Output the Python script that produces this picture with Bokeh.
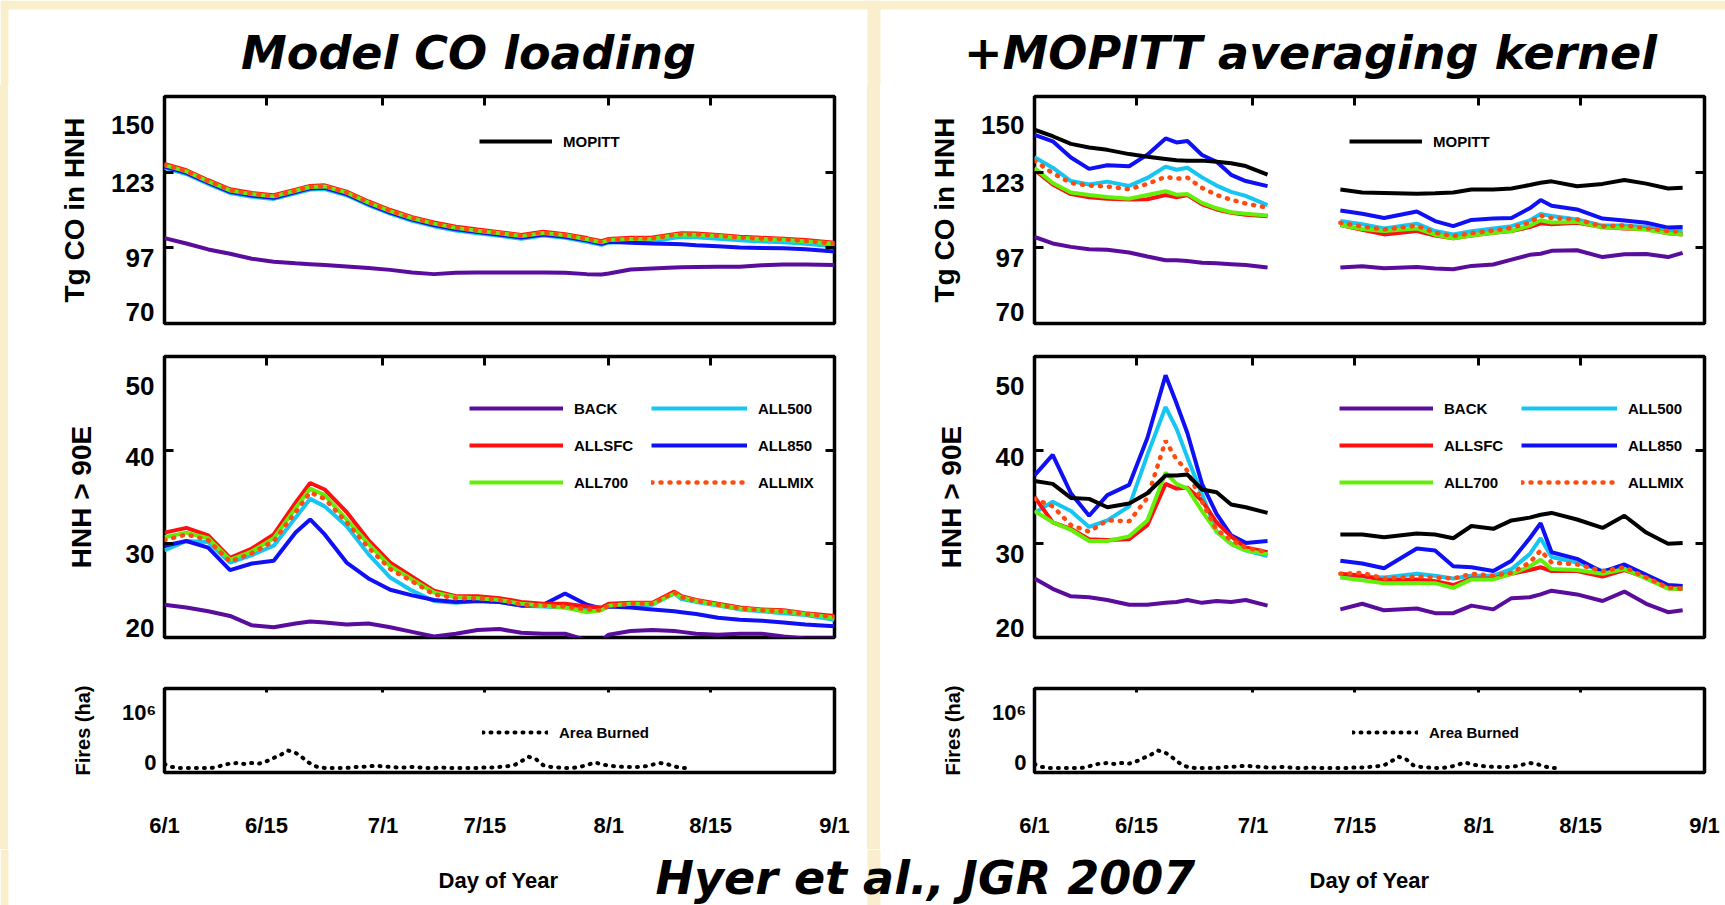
import numpy as np
from bokeh.plotting import figure
from bokeh.layouts import row, column
from bokeh.models import (Range1d, FixedTicker, LinearAxis, Legend, LegendItem,
                          Label, Spacer, BoxAnnotation)
from bokeh.embed import file_html
from bokeh.resources import INLINE

NaN = float("nan")

# ---------------- axes / ticks ----------------
date_ticks = [0, 14, 30, 44, 61, 75, 92]          # days after 1 June
date_labels = ["6/1", "6/15", "7/1", "7/15", "8/1", "8/15", "9/1"]
inner_date_ticks = [14, 30, 44, 61, 75]

load_tick_pos = [139.8, 119.5, 93.0, 74.1]
load_tick_text = ["150", "123", "97", "70"]
load_inner_ticks = [96.67, 123.33]

hnh_tick_pos = [46.9, 39.3, 28.9, 21.0]
hnh_tick_text = ["50", "40", "30", "20"]
hnh_inner_ticks = [30, 40]

fire_tick_pos = [0.1, 1.0]
fire_tick_text = ["0", "10\u2076"]

# ---------------- model CO (daily model output) ----------------
days_model = [0, 3, 6, 9, 12, 15, 18, 20, 22, 25, 28, 31, 34, 37, 40, 43, 46, 49,
              52, 55, 58, 60, 61, 64, 67, 70, 71, 73, 76, 79, 82, 85, 88, 92]

back_load = [100.1, 98.2, 96.1, 94.6, 92.8, 91.8, 91.2, 90.9, 90.6, 90.1, 89.6, 88.9, 88.0, 87.4,
             87.9, 88.0, 88.0, 88.0, 88.0, 87.9, 87.4, 87.3, 87.6, 89.0, 89.4, 89.7, 89.8, 89.9,
             90.0, 90.0, 90.5, 90.8, 90.8, 90.6]
allsfc_load = [126.2, 124.0, 120.5, 117.3, 116.0, 115.2, 117.2, 118.5, 118.7, 116.5, 113.0, 110.0,
               107.5, 105.6, 104.1, 103.1, 102.2, 101.2, 102.3, 101.5, 100.1, 99.0, 99.8, 100.2,
               100.3, 101.5, 101.8, 101.7, 101.2, 100.6, 100.2, 99.9, 99.4, 98.5]
all700_load = [125.8, 123.6, 120.1, 116.9, 115.6, 114.8, 116.8, 118.1, 118.3, 116.1, 112.6, 109.6,
               107.1, 105.2, 103.7, 102.7, 101.8, 100.8, 101.9, 101.1, 99.7, 98.6, 99.4, 99.8,
               99.9, 101.1, 101.4, 101.3, 100.8, 100.2, 99.8, 99.5, 99.0, 98.1]
allmix_load = [125.9, 123.7, 120.2, 117.0, 115.7, 114.9, 116.9, 118.2, 118.4, 116.2, 112.7, 109.7,
               107.2, 105.3, 103.8, 102.8, 101.9, 100.9, 102.0, 101.2, 99.8, 98.7, 99.5, 99.9,
               100.0, 101.2, 101.5, 101.4, 100.9, 100.3, 99.9, 99.6, 99.1, 98.2]
all500_load = [124.9, 122.7, 119.2, 116.0, 114.7, 113.9, 115.9, 117.2, 117.4, 115.2, 111.7, 108.7,
               106.2, 104.3, 102.8, 101.8, 100.9, 99.9, 101.0, 100.2, 98.8, 97.7, 98.5, 98.9,
               99.0, 100.2, 100.5, 100.4, 99.9, 99.3, 98.9, 98.6, 98.1, 97.2]
all850_load = [125.3, 123.1, 119.6, 116.4, 115.1, 114.3, 116.3, 117.6, 117.8, 115.6, 112.1, 109.1,
               106.6, 104.7, 103.2, 102.2, 101.3, 100.3, 101.4, 100.6, 99.2, 98.1, 98.8, 98.5,
               98.2, 98.0, 97.9, 97.6, 97.2, 96.8, 96.6, 96.5, 96.2, 95.4]
mopitt_load_model = [NaN]   # no MOPITT curve in the model-only panel (legend entry only)

back_hnh = [23.5, 23.2, 22.8, 22.3, 21.3, 21.1, 21.5, 21.7, 21.6, 21.4, 21.5, 21.1, 20.6, 20.1,
            20.4, 20.8, 20.9, 20.5, 20.4, 20.4, 19.7, 19.7, 20.3, 20.7, 20.8, 20.7, 20.6, 20.4,
            20.3, 20.4, 20.4, 20.1, 19.9, 19.9]
allsfc_hnh = [31.2, 31.7, 30.9, 28.5, 29.5, 31.0, 34.4, 36.5, 35.8, 33.4, 30.4, 28.0, 26.5, 25.0,
              24.4, 24.4, 24.2, 23.8, 23.6, 23.6, 23.3, 23.2, 23.6, 23.7, 23.7, 24.9, 24.4, 24.0,
              23.6, 23.2, 23.0, 22.9, 22.6, 22.3]
all700_hnh = [30.7, 31.2, 30.6, 28.3, 29.2, 30.6, 33.8, 35.9, 35.2, 32.6, 30.0, 27.6, 26.2, 24.8,
              24.3, 24.2, 24.0, 23.6, 23.4, 23.2, 22.7, 22.9, 23.4, 23.6, 23.6, 24.7, 24.3, 23.9,
              23.5, 23.1, 22.9, 22.8, 22.5, 22.1]
allmix_hnh = [30.4, 31.0, 30.4, 28.1, 29.0, 30.3, 33.4, 35.5, 34.8, 32.3, 29.6, 27.3, 26.0, 24.6,
              24.2, 24.2, 24.0, 23.5, 23.4, 23.3, 23.0, 22.9, 23.4, 23.6, 23.6, 24.8, 24.3, 23.9,
              23.5, 23.1, 22.9, 22.8, 22.5, 22.2]
all500_hnh = [29.3, 30.3, 30.2, 28.0, 28.8, 29.8, 32.8, 34.8, 34.0, 31.9, 28.9, 26.4, 25.0, 23.9,
              23.7, 23.9, 23.8, 23.4, 23.3, 23.2, 22.9, 23.0, 23.3, 23.4, 23.5, 24.7, 24.1, 23.8,
              23.4, 23.0, 22.8, 22.6, 22.4, 21.9]
all850_hnh = [29.8, 30.3, 29.6, 27.2, 27.9, 28.2, 31.2, 32.6, 31.0, 28.0, 26.3, 25.1, 24.5, 24.0,
              23.8, 23.9, 23.8, 23.4, 23.5, 24.7, 23.5, 23.1, 23.3, 23.2, 23.0, 22.8, 22.7, 22.5,
              22.1, 21.9, 21.8, 21.6, 21.4, 21.2]

# ---------------- with MOPITT averaging kernel (gap = no retrievals) ----------------
days_ak = [0, 2.5, 5, 7.5, 10, 13, 15.5, 18, 19.5, 21, 23, 25, 27, 29, 32, 37,
           42, 45, 48, 52.5, 55, 57.5, 60, 63, 65.5, 68, 69.5, 71, 74.5, 78, 81, 84, 87, 89]

mopitt_load_ak = [138.3, 136.0, 133.3, 132.0, 131.2, 129.7, 128.8, 128.0, 127.5, 127.4, 127.4, 127.0,
                  126.5, 125.5, 122.5, NaN, 117.2, 116.2, 116.0, 115.7, 115.9, 116.2, 117.2, 117.2,
                  117.6, 118.8, 119.6, 120.1, 118.4, 119.2, 120.6, 119.3, 117.6, 117.8]
all850_load_ak = [136.5, 134.2, 128.5, 124.5, 125.8, 125.4, 129.5, 135.2, 133.8, 134.3, 129.4, 127.0,
                  122.4, 120.2, 118.4, NaN, 109.8, 108.7, 107.2, 109.5, 106.1, 104.3, 106.5, 107.0,
                  107.2, 110.6, 113.5, 111.5, 110.2, 107.0, 106.3, 105.5, 103.8, 104.0]
all500_load_ak = [128.6, 124.9, 120.2, 119.0, 120.0, 118.5, 121.3, 125.3, 124.2, 124.9, 121.5, 118.6,
                  116.4, 115.0, 111.7, NaN, 106.1, 105.0, 103.5, 105.2, 102.6, 101.4, 102.5, 103.5,
                  104.3, 106.3, 108.6, 107.9, 106.7, 104.5, 104.5, 104.0, 102.6, 102.6]
allmix_load_ak = [127.4, 123.0, 119.5, 118.6, 118.3, 117.3, 119.2, 121.7, 121.0, 121.4, 117.8, 115.3,
                  113.6, 112.3, 110.8, NaN, 105.5, 104.2, 103.1, 104.5, 102.0, 100.8, 101.8, 102.8,
                  103.7, 105.6, 108.0, 107.2, 106.7, 104.2, 104.6, 103.6, 102.6, 102.3]
all700_load_ak = [124.8, 119.5, 116.2, 115.3, 114.6, 114.0, 115.3, 116.6, 115.4, 115.6, 112.5, 110.6,
                  109.2, 108.7, 108.1, NaN, 104.7, 103.3, 102.6, 103.5, 101.3, 100.0, 101.0, 102.0,
                  102.6, 104.5, 106.4, 105.6, 105.8, 103.8, 103.7, 103.0, 101.8, 101.4]
allsfc_load_ak = [124.2, 119.0, 115.6, 114.5, 114.0, 113.7, 113.8, 115.3, 114.5, 115.3, 112.0, 110.2,
                  109.0, 108.3, 107.8, NaN, 104.7, 103.0, 101.4, 102.6, 101.0, 100.0, 101.0, 102.0,
                  102.6, 104.0, 105.3, 105.0, 105.5, 104.0, 103.5, 103.3, 101.8, 101.4]
back_load_ak = [100.5, 98.2, 97.0, 96.2, 96.0, 95.0, 93.6, 92.3, 92.3, 92.0, 91.4, 91.2, 90.9, 90.6,
                89.7, NaN, 89.7, 90.2, 89.5, 89.9, 89.4, 89.1, 90.3, 90.8, 92.5, 94.2, 94.6, 95.6,
                95.8, 93.4, 94.4, 94.5, 93.4, 94.9]

mopitt_hnh_ak = [36.7, 36.4, 34.9, 34.8, 33.9, 34.3, 35.4, 37.3, 37.3, 37.4, 35.8, 35.5, 34.2, 33.9,
                 33.3, NaN, 31.0, 31.0, 30.7, 31.1, 31.0, 30.6, 31.9, 31.6, 32.5, 32.8, 33.1, 33.3,
                 32.6, 31.7, 33.0, 31.2, 30.0, 30.1]
all850_hnh_ak = [37.3, 39.5, 35.4, 33.0, 35.2, 36.3, 41.3, 48.0, 45.0, 41.8, 36.4, 33.2, 30.9, 30.1,
                 30.3, NaN, 28.2, 27.9, 27.4, 29.5, 29.3, 27.6, 27.5, 27.1, 28.2, 30.6, 32.2, 29.1,
                 28.4, 27.0, 27.8, 26.7, 25.6, 25.5]
all500_hnh_ak = [33.3, 34.5, 33.5, 31.8, 32.5, 34.0, 39.5, 44.6, 42.3, 39.2, 35.3, 31.3, 30.0, 29.3,
                 28.7, NaN, 26.6, 26.5, 26.4, 26.8, 26.6, 26.3, 26.6, 26.6, 27.3, 28.9, 30.6, 28.6,
                 28.0, 27.1, 27.5, 26.3, 25.3, 25.2]
allmix_hnh_ak = [34.8, 34.0, 32.0, 31.3, 32.5, 32.4, 34.9, 41.0, 39.0, 37.8, 34.5, 31.5, 30.4, 29.6,
                 29.1, NaN, 26.8, 26.9, 26.3, 26.5, 26.4, 26.3, 26.8, 26.6, 26.9, 28.0, 29.3, 28.0,
                 27.8, 27.1, 27.5, 26.4, 25.3, 25.2]
all700_hnh_ak = [33.5, 32.3, 31.5, 30.3, 30.3, 30.8, 32.5, 37.6, 36.4, 35.9, 33.5, 31.3, 30.0, 29.3,
                 28.9, NaN, 26.4, 26.1, 25.8, 25.8, 25.8, 25.3, 26.2, 26.2, 26.8, 27.6, 28.3, 27.3,
                 27.2, 26.8, 27.3, 26.3, 25.2, 25.2]
allsfc_hnh_ak = [35.0, 32.3, 31.6, 30.5, 30.4, 30.5, 32.0, 36.4, 35.9, 36.0, 34.6, 32.3, 30.8, 29.6,
                 29.1, NaN, 26.8, 26.6, 26.1, 26.2, 26.0, 25.6, 26.3, 26.3, 26.8, 27.2, 27.5, 27.1,
                 27.1, 26.5, 27.2, 26.4, 25.3, 25.2]
back_hnh_ak = [26.3, 25.2, 24.4, 24.3, 24.0, 23.5, 23.5, 23.7, 23.8, 24.0, 23.7, 23.9, 23.8, 24.0,
               23.4, NaN, 23.0, 23.6, 22.9, 23.1, 22.6, 22.6, 23.4, 23.0, 24.2, 24.3, 24.6, 25.0,
               24.6, 23.9, 24.9, 23.6, 22.7, 22.9]

# ---------------- area burned (daily) ----------------
fire_days = list(range(0, 73))
area_burned = [0.07, 0.02, 0.0, 0.0, 0.0, 0.0, 0.0, 0.01, 0.05, 0.08, 0.09, 0.07, 0.09, 0.08,
               0.12, 0.18, 0.24, 0.31, 0.27, 0.18, 0.08, 0.02, 0.0, 0.0, 0.0, 0.0, 0.02, 0.02,
               0.03, 0.04, 0.03, 0.02, 0.01, 0.01, 0.02, 0.01, 0.0, 0.0, 0.01, 0.0, 0.0, 0.0,
               0.0, 0.0, 0.01, 0.01, 0.02, 0.03, 0.05, 0.12, 0.20, 0.16, 0.05, 0.02, 0.01, 0.0,
               0.0, 0.02, 0.05, 0.10, 0.07, 0.04, 0.03, 0.02, 0.02, 0.02, 0.03, 0.06, 0.09, 0.07,
               0.03, 0.0, 0.0]

# ---------------- styling ----------------
CREAM = "#f9efcd"
FONT = "Liberation Sans"
NARROW = "Liberation Sans Narrow, Liberation Sans"
TITLE_FONT = "DejaVu Sans"
PAGE_W, PAGE_H = 1725, 905
WHITE_BG = {"background-color": "white"}

STYLE = {
    "BACK":   dict(line_color="#5a0c9c", line_width=4),
    "ALL500": dict(line_color="#16c6f2", line_width=4),
    "ALL850": dict(line_color="#1010f4", line_width=4),
    "ALLSFC": dict(line_color="#ff1010", line_width=4),
    "ALL700": dict(line_color="#62f00a", line_width=4),
    "ALLMIX": dict(line_color="#ff4a10", line_width=4.5, line_dash="1 8", line_cap="round"),
    "MOPITT": dict(line_color="black", line_width=4),
}
DRAW_ORDER = ["BACK", "ALL500", "ALL850", "ALLSFC", "ALL700", "ALLMIX", "MOPITT"]

# page geometry (pixels): cream margin on the left, cream gutter between the two halves
LEFT_X0, GUTTER_X0, GUTTER_X1 = 8, 867, 880
TOP_STRIP_H, BOTTOM_STRIP_H = 85, 56
LEFT_W, RIGHT_W = GUTTER_X0 - LEFT_X0, PAGE_W - GUTTER_X1
SIDE = {"left": dict(w=LEFT_W, bl=156, br=33), "right": dict(w=RIGHT_W, bl=154, br=21)}
ROWS = {"load": dict(h=255, bt=11, bb=17, yr=(70, 150)),
        "hnh": dict(h=322, bt=16, bb=25, yr=(20, 50)),
        "fire": dict(h=187, bt=26, bb=77, yr=(-0.08, 1.42))}


def make_fig(side, kind):
    s, r = SIDE[side], ROWS[kind]
    p = figure(width=s["w"], height=r["h"], x_range=Range1d(0, 92), y_range=Range1d(*r["yr"]),
               x_axis_location=None, y_axis_location=None, toolbar_location=None,
               output_backend="svg", min_border_left=s["bl"], min_border_right=s["br"],
               min_border_top=r["bt"], min_border_bottom=r["bb"], styles=WHITE_BG)
    p.xgrid.visible = False
    p.ygrid.visible = False
    p.outline_line_color = "black"
    p.outline_line_width = 3.5
    p.background_fill_color = "white"
    p.border_fill_color = "white"
    return p


def tick_only_axis(ticks, length):
    return LinearAxis(ticker=FixedTicker(ticks=ticks), axis_line_color=None,
                      major_tick_line_color="black", major_tick_line_width=3,
                      major_tick_in=length, major_tick_out=0, minor_tick_line_color=None,
                      major_label_text_alpha=0, major_label_text_font_size="1px",
                      major_label_standoff=0)


def value_axis(pos, texts, title, title_size, label_size, standoff, title_standoff):
    return LinearAxis(ticker=FixedTicker(ticks=pos),
                      major_label_overrides={v: t for v, t in zip(pos, texts)},
                      axis_line_color=None, major_tick_line_color=None,
                      major_tick_in=0, major_tick_out=0, minor_tick_line_color=None,
                      major_label_standoff=standoff, major_label_text_font=FONT,
                      major_label_text_font_style="bold", major_label_text_font_size=label_size,
                      major_label_text_color="black",
                      axis_label=title, axis_label_text_font=FONT,
                      axis_label_text_font_style="bold", axis_label_text_font_size=title_size,
                      axis_label_text_color="black", axis_label_standoff=title_standoff)


def add_frame_axes(p, kind):
    if kind == "load":
        p.add_layout(tick_only_axis(load_inner_ticks, 9), "left")
        p.add_layout(value_axis(load_tick_pos, load_tick_text, "Tg CO in HNH", "28px", "26px", 10, 18), "left")
        p.add_layout(tick_only_axis(load_inner_ticks, 9), "right")
        p.add_layout(tick_only_axis(inner_date_ticks, 9), "above")
    elif kind == "hnh":
        p.add_layout(tick_only_axis(hnh_inner_ticks, 9), "left")
        p.add_layout(value_axis(hnh_tick_pos, hnh_tick_text, "HNH > 90E", "28px", "26px", 10, 26), "left")
        p.add_layout(tick_only_axis(hnh_inner_ticks, 9), "right")
        p.add_layout(tick_only_axis(inner_date_ticks, 9), "above")
    else:
        p.add_layout(value_axis(fire_tick_pos, fire_tick_text, "Fires (ha)", "20px", "22px", 8, 25), "left")
        p.add_layout(tick_only_axis(inner_date_ticks, 4), "above")
        xa = LinearAxis(ticker=FixedTicker(ticks=date_ticks),
                        major_label_overrides={d: t for d, t in zip(date_ticks, date_labels)},
                        axis_line_color=None, major_tick_line_color=None, major_tick_in=0,
                        major_tick_out=0, minor_tick_line_color=None, major_label_standoff=40,
                        major_label_text_font=FONT, major_label_text_font_style="bold",
                        major_label_text_font_size="22px", major_label_text_color="black")
        p.add_layout(xa, "below")


def add_legend(p, entries, loc, glyph_w, spacing=10):
    leg = Legend(items=[LegendItem(label=lbl, renderers=[r]) for lbl, r in entries],
                 location=loc, orientation="vertical", padding=0, margin=0, spacing=spacing,
                 glyph_width=glyph_w, glyph_height=20, label_height=20, label_standoff=11,
                 label_text_font=NARROW, label_text_font_style="bold",
                 label_text_font_size="15px", label_text_color="black",
                 background_fill_alpha=0, border_line_alpha=0)
    p.add_layout(leg)


def draw_panel(p, x, series):
    rends = {}
    for name in DRAW_ORDER:
        if name in series:
            y = np.array(series[name], dtype=float)
            xs = np.array(x[:len(y)], dtype=float)
            rends[name] = p.line(xs, y, **STYLE[name])
    return rends


def build_half(side, load_series, hnh_series, x_load, x_hnh):
    pa = make_fig(side, "load")
    add_frame_axes(pa, "load")
    ra = draw_panel(pa, x_load, load_series)
    add_legend(pa, [("MOPITT", ra["MOPITT"])], (315, 172), 73)

    pb = make_fig(side, "hnh")
    add_frame_axes(pb, "hnh")
    rb = draw_panel(pb, x_hnh, hnh_series)
    add_legend(pb, [("BACK", rb["BACK"]), ("ALLSFC", rb["ALLSFC"]), ("ALL700", rb["ALL700"])],
               (305, 145), 94, 17)
    add_legend(pb, [("ALL500", rb["ALL500"]), ("ALL850", rb["ALL850"]), ("ALLMIX", rb["ALLMIX"])],
               (487, 145), 96, 17)

    pc = make_fig(side, "fire")
    add_frame_axes(pc, "fire")
    rc = pc.line(fire_days, area_burned, line_color="black", line_width=4,
                 line_dash="1 7", line_cap="round")
    add_legend(pc, [("Area Burned", rc)], (318, 30), 66)
    return column(pa, pb, pc, spacing=0, styles=WHITE_BG)


def strip(height, y0, texts, top_band=0):
    """Full-width title / caption strip in page pixel coordinates (y downwards)."""
    p = figure(width=PAGE_W, height=height, x_range=Range1d(0, PAGE_W),
               y_range=Range1d(y0 + height, y0), x_axis_location=None, y_axis_location=None,
               toolbar_location=None, output_backend="svg", min_border=0, styles=WHITE_BG)
    p.xgrid.visible = False
    p.ygrid.visible = False
    p.outline_line_color = None
    p.background_fill_color = "white"
    p.border_fill_color = "white"
    bands = [(0, LEFT_X0, y0, y0 + height), (GUTTER_X0, GUTTER_X1, y0, y0 + height)]
    if top_band:
        bands.append((0, PAGE_W, y0, y0 + top_band))
    for l, r, t, b in bands:
        p.add_layout(BoxAnnotation(left=l, right=r, top=t, bottom=b, fill_color=CREAM,
                                   fill_alpha=1, line_color=None))
    for txt, x, y, align, font, style, size in texts:
        p.add_layout(Label(x=x, y=y, text=txt, text_align=align, text_baseline="middle",
                           text_font=font, text_font_style=style, text_font_size=size,
                           text_color="black"))
    return p


left = build_half(
    "left",
    {"BACK": back_load, "ALL500": all500_load, "ALL850": all850_load, "ALLSFC": allsfc_load,
     "ALL700": all700_load, "ALLMIX": allmix_load, "MOPITT": mopitt_load_model},
    {"BACK": back_hnh, "ALL500": all500_hnh, "ALL850": all850_hnh, "ALLSFC": allsfc_hnh,
     "ALL700": all700_hnh, "ALLMIX": allmix_hnh},
    days_model, days_model)

right = build_half(
    "right",
    {"BACK": back_load_ak, "ALL500": all500_load_ak, "ALL850": all850_load_ak,
     "ALLSFC": allsfc_load_ak, "ALL700": all700_load_ak, "ALLMIX": allmix_load_ak,
     "MOPITT": mopitt_load_ak},
    {"BACK": back_hnh_ak, "ALL500": all500_hnh_ak, "ALL850": all850_hnh_ak,
     "ALLSFC": allsfc_hnh_ak, "ALL700": all700_hnh_ak, "ALLMIX": allmix_hnh_ak,
     "MOPITT": mopitt_hnh_ak},
    days_ak, days_ak)

title_strip = strip(TOP_STRIP_H, 0, [
    ("Model CO loading", 468, 52, "center", TITLE_FONT, "bold italic", "46px"),
    ("+MOPITT averaging kernel", 1310, 52, "center", TITLE_FONT, "bold italic", "46px"),
], top_band=9)

caption_strip = strip(BOTTOM_STRIP_H, PAGE_H - BOTTOM_STRIP_H, [
    ("Day of Year", 498, 880, "center", NARROW, "bold", "22px"),
    ("Day of Year", 1369, 880, "center", NARROW, "bold", "22px"),
    ("Hyer et al., JGR 2007", 655, 877, "left", TITLE_FONT, "bold italic", "46px"),
])

body_h = PAGE_H - TOP_STRIP_H - BOTTOM_STRIP_H
body = row(Spacer(width=LEFT_X0, height=body_h), left,
           Spacer(width=GUTTER_X1 - GUTTER_X0, height=body_h), right, spacing=0)
page = column(title_strip, body, caption_strip, spacing=0,
              styles={"background-color": CREAM})

open("out.html", "w").write(file_html(page, INLINE, title="Hyer et al., JGR 2007"))
